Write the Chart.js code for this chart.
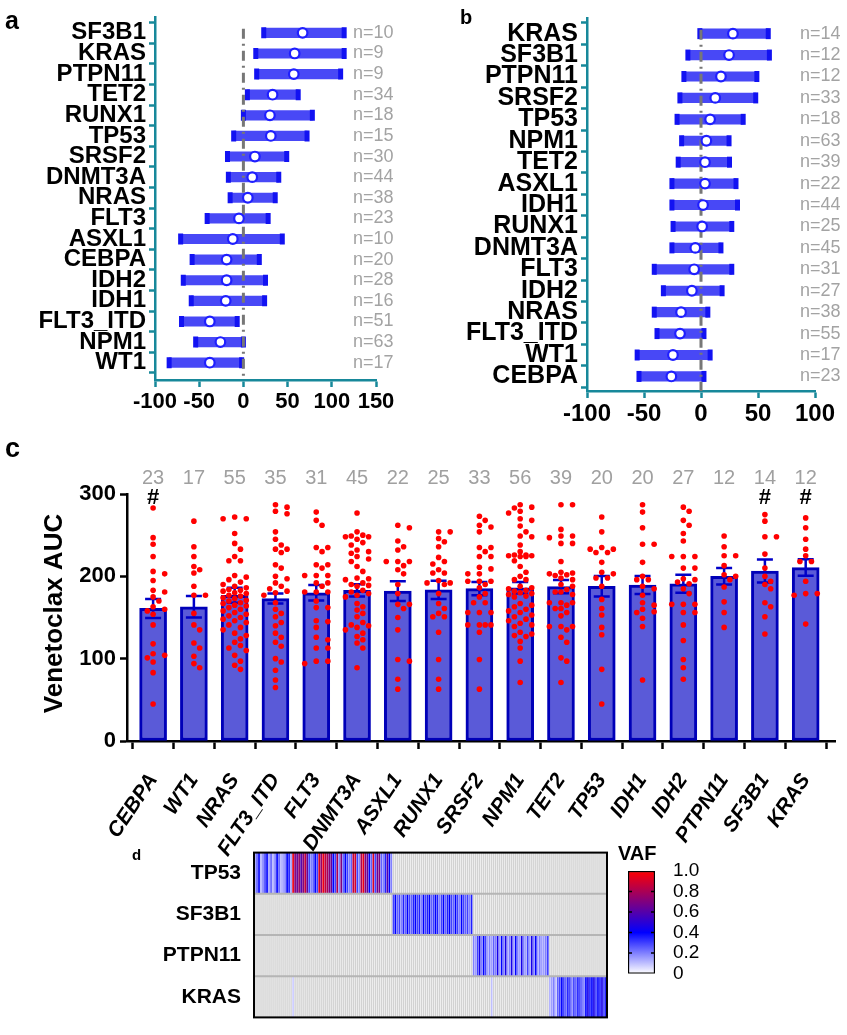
<!DOCTYPE html>
<html>
<head>
<meta charset="utf-8">
<script src="https://cdn.jsdelivr.net/npm/chart.js@4.4.1/dist/chart.umd.min.js"></script>
<style>
html, body { margin: 0; padding: 0; background: #fff; }
#page { position: relative; width: 847px; height: 1035px; overflow: hidden; font-family: 'Liberation Sans', Arial, sans-serif; }
canvas { position: absolute; }
.lbl { position: absolute; font-weight: bold; color: #000; line-height: 1; }
</style>
</head>
<body>
<div id="page">
  <canvas id="chartA" width="400" height="425" style="left:0;top:0"></canvas>
  <canvas id="chartB" width="447" height="430" style="left:400px;top:0"></canvas>
  <canvas id="chartC" width="847" height="460" style="left:0;top:430px"></canvas>
  <canvas id="chartD" width="515" height="200" style="left:100px;top:835px"></canvas>
  <canvas id="chartE" width="110" height="160" style="left:600px;top:835px"></canvas>
  <div class="lbl" style="left:5px;top:8px;font-size:25px">a</div>
  <div class="lbl" style="left:460px;top:7px;font-size:20px">b</div>
  <div class="lbl" style="left:5px;top:435px;font-size:27px">c</div>
  <div class="lbl" style="left:132px;top:847px;font-size:15px">d</div>
</div>
<script>
// ---- panel a: effect on venetoclax AUC (cohort 1) ----
const genesA = ['SF3B1', 'KRAS', 'PTPN11', 'TET2', 'RUNX1', 'TP53', 'SRSF2', 'DNMT3A', 'NRAS', 'FLT3', 'ASXL1', 'CEBPA', 'IDH2', 'IDH1', 'FLT3_ITD', 'NPM1', 'WT1'];
const effA  = [67, 58, 57, 33, 30, 31, 13, 10, 5, -5, -12, -19, -19, -20, -38, -26, -38];
const lowA  = [23, 14, 15, 4.5, 0, -11, -18, -17, -15, -41, -71, -58, -68, -59, -70, -54, -84];
const highA = [114, 114, 110, 62, 78, 72, 49, 40, 36, 28, 44, 18, 25, 24, -7, 0, -2];
const nA    = [10, 9, 9, 34, 18, 15, 30, 44, 38, 23, 10, 20, 28, 16, 51, 63, 17];
const ticksA = [-100, -50, 0, 50, 100, 150];

// ---- panel b: effect on venetoclax AUC (cohort 2) ----
const genesB = ['KRAS', 'SF3B1', 'PTPN11', 'SRSF2', 'TP53', 'NPM1', 'TET2', 'ASXL1', 'IDH1', 'RUNX1', 'DNMT3A', 'FLT3', 'IDH2', 'NRAS', 'FLT3_ITD', 'WT1', 'CEBPA'];
const effB  = [28, 24.6, 17.5, 12.5, 8, 4.7, 3.5, 3.5, 1.8, 1, -5, -6, -8, -17.5, -18.4, -24.6, -26];
const lowB  = [-1, -11.5, -15, -18.5, -21, -17, -20, -25.5, -25.5, -24.5, -25.5, -41, -33, -41, -38.6, -56, -54.4];
const highB = [59, 60, 49, 48, 37, 24.6, 25, 30.7, 32, 27, 17.5, 27, 18.5, 6, 2.6, 8, 2.6];
const nB    = [14, 12, 12, 33, 18, 63, 39, 22, 44, 25, 45, 31, 27, 38, 55, 17, 23];
const ticksB = [-100, -50, 0, 50, 100];

// ---- panel c: venetoclax AUC by mutation ----
const genesC = ['CEBPA', 'WT1', 'NRAS', 'FLT3_ITD', 'FLT3', 'DNMT3A', 'ASXL1', 'RUNX1', 'SRSF2', 'NPM1', 'TET2', 'TP53', 'IDH1', 'IDH2', 'PTPN11', 'SF3B1', 'KRAS'];
const nC    = [23, 17, 55, 35, 31, 45, 22, 25, 33, 56, 39, 20, 20, 27, 12, 14, 12];
const meanC = [161, 163, 177, 173, 180, 183, 182, 183.5, 185, 186, 187.5, 188, 189.5, 191, 200, 206.5, 210.6];
const semC  = [11.5, 13, 9, 6, 9.5, 7.5, 12, 11, 8, 7, 8, 12.5, 11, 11, 10, 14, 10];
const hashGenes = ['CEBPA', 'SF3B1', 'KRAS'];
const ticksC = [0, 100, 200, 300];
const aucPoints = [
  [283, 247, 239, 224, 206, 203, 195, 183, 181, 175, 170, 163, 160, 158, 154, 141, 118, 106, 104, 101, 96, 83, 45],
  [267, 236, 224, 212, 208, 204, 188, 177, 177, 155, 141, 135, 119, 113, 103, 94, 89],
  [272, 270, 270, 252, 240, 233, 224, 219, 219, 201, 199, 196, 193, 190, 188, 186, 184, 183, 182, 180, 179, 177, 176, 174, 173, 171, 170, 168, 167, 165, 164, 162, 160, 158, 156, 154, 152, 150, 148, 146, 144, 141, 138, 135, 131, 128, 124, 120, 116, 113, 110, 104, 97, 92, 87],
  [287, 284, 279, 276, 254, 245, 238, 233, 233, 229, 214, 210, 200, 197, 192, 188, 185, 182, 180, 177, 168, 160, 155, 151, 144, 140, 131, 126, 120, 115, 100, 96, 86, 74, 65],
  [278, 268, 262, 235, 235, 230, 214, 214, 210, 201, 201, 201, 192, 192, 188, 181, 181, 181, 170, 162, 162, 146, 145, 138, 126, 123, 113, 113, 97, 97, 94],
  [277, 254, 250, 249, 248, 248, 245, 241, 238, 232, 230, 228, 224, 221, 218, 212, 206, 198, 197, 196, 192, 190, 189, 188, 183, 181, 179, 177, 175, 167, 163, 159, 155, 151, 144, 141, 140, 138, 135, 131, 127, 123, 119, 113, 89],
  [262, 259, 243, 236, 232, 218, 218, 218, 213, 208, 203, 190, 179, 166, 166, 161, 150, 135, 99, 97, 75, 63],
  [254, 254, 246, 242, 236, 223, 218, 215, 208, 204, 204, 195, 192, 192, 190, 179, 167, 161, 155, 151, 151, 132, 99, 75, 63],
  [273, 268, 262, 260, 254, 235, 235, 230, 224, 224, 211, 209, 203, 203, 194, 194, 194, 190, 186, 179, 175, 168, 168, 156, 156, 156, 141, 141, 141, 141, 132, 99, 63],
  [287, 284, 283, 279, 277, 270, 268, 261, 254, 249, 248, 238, 230, 226, 226, 225, 225, 224, 224, 219, 212, 205, 200, 196, 196, 188, 186, 185, 183, 182, 180, 179, 178, 176, 175, 167, 165, 163, 160, 158, 156, 153, 151, 148, 146, 143, 141, 139, 132, 130, 128, 127, 121, 113, 97, 71],
  [287, 287, 257, 249, 249, 247, 240, 240, 218, 205, 204, 203, 202, 201, 198, 196, 190, 188, 184, 181, 181, 178, 168, 168, 168, 165, 161, 161, 156, 152, 139, 139, 139, 135, 126, 120, 101, 97, 71],
  [272, 254, 235, 233, 233, 229, 229, 217, 205, 203, 198, 198, 188, 172, 161, 153, 138, 129, 87, 45],
  [287, 278, 259, 239, 239, 217, 200, 196, 196, 188, 185, 177, 168, 165, 160, 157, 156, 149, 139, 74],
  [284, 279, 268, 262, 252, 243, 224, 224, 224, 210, 210, 197, 196, 193, 191, 185, 179, 166, 166, 166, 156, 156, 141, 122, 99, 89, 75],
  [249, 236, 225, 225, 213, 202, 200, 196, 187, 169, 156, 138],
  [275, 267, 248, 248, 227, 210, 200, 194, 190, 185, 168, 163, 151, 130],
  [271, 259, 245, 233, 225, 218, 218, 194, 179, 179, 177, 142]
];

// ---- panel d: VAF heatmap (samples grouped by mutated gene) ----
const hmGenes = ['TP53', 'SF3B1', 'PTPN11', 'KRAS'];
const vafTP53 = [0.15, 0.25, 0.4, 0.12, 0.2, 0.3, 0.4, 0.15, 0.25, 0.12,
  0.2, 0.4, 0.25, 0.12, 0.15, 0.2, 0.4, 0.35, 0.15, 0.95,
  0.7, 0.65, 0.75, 0.6, 0.7, 0.85, 0.65, 0.3, 0.2, 0.25,
  0.4, 0.3, 0.9, 0.75, 0.95, 0.85, 0.8, 0.7, 0.65, 0.4,
  0.3, 0.8, 0.2, 0.7, 0.25, 0.4, 0.3, 0.2, 0.25, 0.85,
  0.9, 0.3, 0.2, 0.8, 0.95, 0.7, 0.65, 0.4, 0.25, 0.9,
  0.3, 0.65, 0.7, 0.25, 0.2, 0.35, 0.6, 0.4, 0.2];
const vafSF3B1 = [0.3, 0.4, 0.25, 0.3, 0.2, 0.35, 0.25, 0.4, 0.3, 0.25,
  0.35, 0.4, 0.3, 0.35, 0.2, 0.4, 0.3, 0.35, 0.4, 0.25,
  0.3, 0.4, 0.35, 0.2, 0.3, 0.4, 0.25, 0.35, 0.4, 0.3,
  0.25, 0.4, 0.3, 0.2, 0.4, 0.3, 0.25, 0.3, 0.2, 0.35];
const vafPTPN11 = [0.2, 0.15, 0.3, 0.45, 0.2, 0.4, 0.3, 0.15, 0.2, 0.15,
  0.25, 0.2, 0.45, 0.15, 0.4, 0.2, 0.45, 0.15, 0.2, 0.45,
  0.15, 0.4, 0.2, 0.15, 0.45, 0.2, 0.15, 0.3, 0.15, 0.45,
  0.2, 0.4, 0.15, 0.2, 0.15, 0.15, 0.2, 0.3];
const vafKRAS = [0.12, 0.15, 0.2, 0.1, 0.25, 0.3, 0.4, 0.3, 0.25, 0.35,
  0.3, 0.2, 0.3, 0.25, 0.35, 0.3, 0.25, 0.2, 0.4, 0.45,
  0.35, 0.4, 0.45, 0.3, 0.4, 0.35, 0.45, 0.3, 0.4];
const krasOther = [[19, 0.08], [118, 0.1]]; // [sample, VAF] outside the KRAS block
const vafTicks = [0, 0.2, 0.4, 0.6, 0.8, 1.0];

// ---- shared helpers ----
const FONT = "'Liberation Sans', Arial, sans-serif";
const TEAL = '#17889a';
Chart.defaults.font.family = FONT;
Chart.defaults.color = '#000';

function vafColor(v) {
  let r, g, b;
  if (v <= 0.4) { const t = v / 0.4; r = g = Math.round(255 * (1 - t)); b = 255; }
  else { const t = (v - 0.4) / 0.6; r = Math.round(255 * t); g = 0; b = Math.round(255 * (1 - t)); }
  return `rgb(${r},${g},${b})`;
}

// forest plots (a, b)
const zeroLine = {
  id: 'zeroLine',
  beforeDatasetDraw(chart, args) {
    if (args.index !== 0) return;
    const { ctx, chartArea, scales: { x, y } } = chart;
    const px = x.getPixelForValue(0);
    ctx.save();
    ctx.strokeStyle = '#777';
    ctx.lineWidth = 3;
    ctx.setLineDash([10, 5, 2, 5]);
    ctx.beginPath();
    ctx.moveTo(px, y.getPixelForValue(0) - 4);
    ctx.lineTo(px, chartArea.bottom);
    ctx.stroke();
    ctx.restore();
  }
};

function nLabels(nums, dx, size) {
  return {
    id: 'nLabels',
    afterDraw(chart) {
      const { ctx, chartArea, scales: { y } } = chart;
      ctx.save();
      ctx.font = size + 'px ' + FONT;
      ctx.fillStyle = '#a3a3a3';
      ctx.textAlign = 'left';
      ctx.textBaseline = 'middle';
      nums.forEach((n, i) => ctx.fillText('n=' + n, chartArea.right + dx, y.getPixelForValue(i)));
      ctx.restore();
    }
  };
}

function forest(id, genes, eff, low, high, nums, xTicks, cfg) {
  const idx = genes.map((g, i) => i);
  return new Chart(document.getElementById(id), {
    type: 'bar',
    data: {
      datasets: [
        { type: 'scatter', order: 0, data: idx.map(i => ({ x: eff[i], y: i })),
          pointStyle: 'circle', pointRadius: 4.8, pointBorderWidth: 2.2,
          pointBackgroundColor: '#fff', pointBorderColor: '#1f1fff' },
        { type: 'scatter', order: 1, data: idx.flatMap(i => [{ x: low[i], y: i }, { x: high[i], y: i }]),
          pointStyle: 'line', pointRotation: 90, pointRadius: 5.5, pointBorderWidth: 5,
          pointBorderColor: '#1212f2' },
        { type: 'bar', order: 2, data: idx.map(i => ({ x: [low[i], high[i]], y: i })),
          backgroundColor: '#4848f6', borderWidth: 0, barThickness: 9.5 }
      ]
    },
    options: {
      responsive: false,
      animation: false,
      indexAxis: 'y',
      layout: { padding: cfg.padding },
      plugins: { legend: { display: false }, tooltip: { enabled: false } },
      scales: {
        x: {
          type: 'linear', min: xTicks[0], max: xTicks[xTicks.length - 1],
          afterBuildTicks: s => { s.ticks = xTicks.map(v => ({ value: v })); },
          afterFit: s => { s.height = cfg.axisH; },
          border: { color: TEAL, width: 2.5 },
          grid: { drawOnChartArea: false, tickColor: TEAL, tickLength: 7, tickWidth: 2.5 },
          ticks: { font: { size: cfg.xFont, weight: 'bold' }, color: '#000', padding: 2, maxRotation: 0, autoSkip: false }
        },
        y: {
          type: 'linear', reverse: true, min: cfg.yMin, max: cfg.yMax, offset: false,
          afterBuildTicks: s => { s.ticks = idx.map(v => ({ value: v })); },
          afterFit: s => { s.width = cfg.axisW; },
          border: { color: TEAL, width: 2.5 },
          grid: { drawOnChartArea: false, tickColor: TEAL, tickLength: 6, tickWidth: 2.5 },
          ticks: { font: { size: cfg.font, weight: 'bold' }, color: '#000', padding: 3, autoSkip: false,
                   callback: v => genes[v] }
        }
      }
    },
    plugins: [zeroLine, nLabels(nums, cfg.nDx, 18)]
  });
}

forest('chartA', genesA, effA, lowA, highA, nA, ticksA,
  { padding: { top: 5, right: 24 }, axisW: 155, axisH: 45, yMin: -0.75, yMax: 16.84, font: 24, xFont: 22, nDx: -23 });
forest('chartB', genesB, effB, lowB, highB, nB, ticksB,
  { padding: { top: 7, right: 32 }, axisW: 187, axisH: 39, yMin: -0.73, yMax: 16.68, font: 25, xFont: 24, nDx: -15 });

// ---- panel c ----
// dot layout: a capped beeswarm so a column stays about one bar wide
const PX_PER_AUC = 247 / 300, PX_PER_GENE = 40.88;
function swarm(values, col) {
  const placed = [];
  const step = 5.8, d = 6.5, maxK = 4;
  values.slice().sort((a, b) => b - a).forEach(v => {
    const py = v * PX_PER_AUC;
    let best = 0, bestGap = -1;
    for (let k = 0; k <= maxK; k++) {
      const off = k === 0 ? 0 : (k % 2 ? 1 : -1) * Math.ceil(k / 2) * step;
      const gap = placed.reduce((m, p) => Math.min(m, Math.hypot(p.px - off, p.py - py)), Infinity);
      if (gap >= d) { best = off; bestGap = gap; break; }
      if (gap > bestGap) { best = off; bestGap = gap; }
    }
    placed.push({ px: best, py, v });
  });
  return placed.map(p => ({ x: col + p.px / PX_PER_GENE, y: p.v }));
}
const dotData = aucPoints.flatMap((vals, i) => swarm(vals, i));

const panelCExtras = {
  id: 'panelCExtras',
  afterDatasetDraw(chart, args) {
    if (args.index !== 1) return;
    const { ctx, scales: { x, y } } = chart;
    ctx.save();
    ctx.strokeStyle = '#0000c8';
    ctx.lineWidth = 2.5;
    meanC.forEach((m, i) => {
      const px = x.getPixelForValue(i);
      const top = y.getPixelForValue(m + semC[i]), bot = y.getPixelForValue(m - semC[i]);
      ctx.beginPath();
      ctx.moveTo(px, top); ctx.lineTo(px, bot);
      ctx.moveTo(px - 8, top); ctx.lineTo(px + 8, top);
      ctx.moveTo(px - 8, bot); ctx.lineTo(px + 8, bot);
      ctx.stroke();
    });
    ctx.restore();
  },
  afterDraw(chart) {
    const { ctx, chartArea, scales: { x } } = chart;
    ctx.save();
    ctx.textAlign = 'center';
    ctx.textBaseline = 'middle';
    ctx.font = '20px ' + FONT;
    ctx.fillStyle = '#a0a0a0';
    nC.forEach((n, i) => ctx.fillText(String(n), x.getPixelForValue(i), chartArea.top - 16));
    ctx.font = 'bold 22px ' + FONT;
    ctx.fillStyle = '#000';
    genesC.forEach((g, i) => { if (hashGenes.includes(g)) ctx.fillText('#', x.getPixelForValue(i), chartArea.top + 4); });
    ctx.translate(55, (chartArea.top + chartArea.bottom) / 2 - 4);
    ctx.rotate(-Math.PI / 2);
    ctx.font = 'bold 26px ' + FONT;
    ctx.fillText('Venetoclax AUC', 0, 0);
    ctx.restore();
  }
};

new Chart(document.getElementById('chartC'), {
  type: 'bar',
  data: {
    datasets: [
      { type: 'scatter', order: 0, data: dotData, pointRadius: 2.8, pointBorderWidth: 0,
        pointBackgroundColor: '#ff0000' },
      { type: 'bar', order: 1, data: meanC.map((m, i) => ({ x: i, y: m })),
        backgroundColor: '#5a5ad8', borderColor: '#0000b8', borderWidth: 3, borderSkipped: false, barThickness: 27 }
    ]
  },
  options: {
    responsive: false,
    animation: false,
    layout: { padding: { top: 64, right: 10 } },
    plugins: { legend: { display: false }, tooltip: { enabled: false } },
    scales: {
      x: {
        type: 'linear', min: -0.64, max: 16.73, offset: false,
        afterBuildTicks: s => { s.ticks = genesC.map((g, i) => ({ value: i })); },
        afterFit: s => { s.height = 149; },
        border: { color: '#000', width: 2.5 },
        grid: { drawOnChartArea: false, tickColor: '#000', tickLength: 8, tickWidth: 2.5 },
        ticks: { font: { size: 21, weight: 'bold', style: 'italic' }, color: '#000', padding: 20,
                 minRotation: 56, maxRotation: 56, autoSkip: false, callback: v => genesC[v] }
      },
      y: {
        type: 'linear', min: 0, max: 300,
        afterBuildTicks: s => { s.ticks = ticksC.map(v => ({ value: v })); },
        afterFit: s => { s.width = 127; },
        border: { color: '#000', width: 2.5 },
        grid: { drawOnChartArea: false, tickColor: '#000', tickLength: 7, tickWidth: 2.5 },
        ticks: { font: { size: 22, weight: 'bold' }, color: '#000', padding: 4 }
      }
    }
  },
  plugins: [panelCExtras]
});

// ---- panel d: heatmap ----
const blocks = [vafTP53, vafSF3B1, vafPTPN11, vafKRAS];
const nSamples = blocks.reduce((s, b) => s + b.length, 0);
const vafRows = hmGenes.map(() => Array(nSamples).fill(null));
let blockStart = 0;
blocks.forEach((b, r) => { b.forEach((v, k) => { vafRows[r][blockStart + k] = v; }); blockStart += b.length; });
krasOther.forEach(([i, v]) => { vafRows[3][i] = v; });

const hmDatasets = [];
vafRows.forEach((row, r) => {
  const all = row.map((v, i) => i);
  const wt = all.filter(i => row[i] === null);
  const mut = all.filter(i => row[i] !== null);
  hmDatasets.push({ data: wt.map(i => ({ x: i + 0.5, y: [r, r + 1] })), backgroundColor: '#d2d2d2',
    borderWidth: 0, grouped: false, barPercentage: 0.72, categoryPercentage: 1 });
  hmDatasets.push({ data: mut.map(i => ({ x: i + 0.5, y: [r, r + 1] })), backgroundColor: mut.map(i => vafColor(row[i])),
    borderWidth: 0, grouped: false, barPercentage: 0.85, categoryPercentage: 1 });
});

const heatFrame = {
  id: 'heatFrame',
  afterDatasetsDraw(chart) {
    const { ctx, chartArea: a, scales: { y } } = chart;
    ctx.save();
    ctx.strokeStyle = '#b5b5b5';
    ctx.lineWidth = 2;
    [1, 2, 3].forEach(v => {
      const py = y.getPixelForValue(v);
      ctx.beginPath(); ctx.moveTo(a.left, py); ctx.lineTo(a.right, py); ctx.stroke();
    });
    ctx.strokeStyle = '#000';
    ctx.lineWidth = 2;
    ctx.strokeRect(a.left, a.top, a.right - a.left, a.bottom - a.top);
    ctx.restore();
  }
};

new Chart(document.getElementById('chartD'), {
  type: 'bar',
  data: { datasets: hmDatasets },
  options: {
    responsive: false,
    animation: false,
    layout: { padding: { top: 10, right: 8, bottom: 6 } },
    plugins: { legend: { display: false }, tooltip: { enabled: false } },
    scales: {
      x: { type: 'linear', display: false, min: 0, max: nSamples, offset: false },
      y: {
        type: 'linear', reverse: true, min: 0, max: 4, offset: false,
        afterBuildTicks: s => { s.ticks = hmGenes.map((g, i) => ({ value: i + 0.5 })); },
        afterFit: s => { s.width = 154; },
        grid: { display: false }, border: { display: false },
        ticks: { font: { size: 21, weight: 'bold' }, color: '#000', padding: 5, autoSkip: false,
                 callback: v => hmGenes[Math.floor(v)] }
      }
    }
  },
  plugins: [heatFrame]
});

// colour bar
function vafGradient(chart) {
  const a = chart.chartArea;
  if (!a) return '#fff';
  const g = chart.ctx.createLinearGradient(0, a.bottom, 0, a.top);
  vafTicks.forEach(v => g.addColorStop(v, vafColor(v)));
  return g;
}
const barExtras = {
  id: 'barExtras',
  afterDraw(chart) {
    const { ctx, chartArea: a, scales: { y } } = chart;
    ctx.save();
    ctx.strokeStyle = '#000';
    ctx.lineWidth = 1.5;
    vafTicks.slice(1, -1).forEach(v => {
      const py = y.getPixelForValue(v);
      ctx.beginPath();
      ctx.moveTo(a.left, py); ctx.lineTo(a.left + 4, py);
      ctx.moveTo(a.right - 4, py); ctx.lineTo(a.right, py);
      ctx.stroke();
    });
    ctx.fillStyle = '#000';
    ctx.font = 'bold 20px ' + FONT;
    ctx.textAlign = 'left';
    ctx.textBaseline = 'middle';
    ctx.fillText('VAF', 18, 19);
    ctx.restore();
  }
};
new Chart(document.getElementById('chartE'), {
  type: 'bar',
  data: {
    labels: ['VAF'],
    datasets: [{ data: [[0, 1]], backgroundColor: c => vafGradient(c.chart), borderColor: '#000', borderWidth: 1.5,
      borderSkipped: false, barPercentage: 1, categoryPercentage: 1 }]
  },
  options: {
    responsive: false,
    animation: false,
    layout: { padding: { left: 28, top: 36, bottom: 13 } },
    plugins: { legend: { display: false }, tooltip: { enabled: false } },
    scales: {
      x: { display: false },
      y: {
        position: 'right', min: 0, max: 1,
        afterBuildTicks: s => { s.ticks = vafTicks.map(v => ({ value: v })); },
        afterFit: s => { s.width = 55; },
        grid: { display: false }, border: { display: false },
        ticks: { font: { size: 19 }, color: '#000', padding: 10, autoSkip: false,
                 callback: v => v === 0 ? '0' : v.toFixed(1) }
      }
    }
  },
  plugins: [barExtras]
});
</script>
</body>
</html>
